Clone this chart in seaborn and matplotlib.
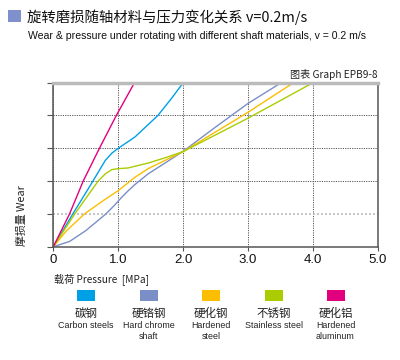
import matplotlib
matplotlib.use("Agg")
import matplotlib.pyplot as plt
import seaborn as sns
import pandas as pd
from matplotlib.patches import Rectangle

sns.set_style("white")
plt.rcParams['font.family'] = ['Liberation Sans', 'Noto Sans CJK SC', 'DejaVu Sans']

# ---- data ----
materials_cn = ["碳钢", "硬铬钢", "硬化钢", "不锈钢", "硬化铝"]
materials_en = ["Carbon steels", "Hard chrome\nshaft", "Hardened\nsteel", "Stainless steel", "Hardened\naluminum"]
colors = ["#00a0e6", "#7a8fc8", "#fbbe00", "#aacc00", "#e3007f"]

carbon_x = [0, 0.3, 0.61, 0.8, 0.9, 1.0, 1.26, 1.61, 1.82, 2.0]
carbon_y = [0, 1.0, 2.0, 2.63, 2.85, 3.0, 3.35, 4.0, 4.52, 5.0]

chrome_x = [0, 0.25, 0.5, 0.81, 0.95, 1.05, 1.15, 1.26, 1.46, 1.72, 2.0, 2.5, 3.0, 3.51]
chrome_y = [0, 0.16, 0.49, 1.0, 1.28, 1.5, 1.7, 1.9, 2.22, 2.55, 2.91, 3.65, 4.37, 5.0]

hardened_x = [0, 0.2, 0.48, 0.75, 1.0, 1.26, 1.46, 1.72, 2.0, 3.0, 3.7]
hardened_y = [0, 0.48, 1.0, 1.38, 1.71, 2.12, 2.38, 2.63, 2.9, 4.1, 5.0]

stainless_x = [0, 0.33, 0.69, 0.8, 0.9, 1.0, 1.15, 1.46, 1.72, 2.0, 3.0, 4.0]
stainless_y = [0, 1.0, 2.0, 2.22, 2.35, 2.38, 2.40, 2.55, 2.71, 2.9, 3.92, 5.0]

alu_x = [0, 0.25, 0.46, 0.71, 0.97, 1.25]
alu_y = [0, 1.0, 2.0, 3.0, 4.0, 5.0]

x_ticks = [0, 1, 2, 3, 4, 5]
x_ticklabels = ["0", "1.0", "2.0", "3.0", "4.0", "5.0"]

series = [(carbon_x, carbon_y), (chrome_x, chrome_y), (hardened_x, hardened_y),
          (stainless_x, stainless_y), (alu_x, alu_y)]
rows = []
for name, (xs, ys) in zip(materials_cn, series):
    for xv, yv in zip(xs, ys):
        rows.append({"material": name, "pressure": xv, "wear": yv})
df = pd.DataFrame(rows)

fig = plt.figure(figsize=(4.0, 3.6), dpi=100)
ax = fig.add_axes([0.1333, 0.3147, 0.8117, 0.4556])

sns.lineplot(data=df, x="pressure", y="wear", hue="material", hue_order=materials_cn,
             palette=dict(zip(materials_cn, colors)), sort=False, estimator=None,
             linewidth=1.0, legend=False, ax=ax)

ax.set_xlim(0, 5)
ax.set_ylim(0, 5)
ax.set_xticks(x_ticks)
ax.set_xticklabels(x_ticklabels)
ax.set_yticks([0, 1, 2, 3, 4, 5])
ax.set_yticklabels([])
ax.set_xlabel("")
ax.set_ylabel("")

ax.grid(True, linestyle=(0, (1.2, 1.2)), color="#555555", linewidth=0.7)
ax.set_axisbelow(True)
for i, gl in enumerate(ax.get_ygridlines()):
    if i == 1:
        gl.set_color("#bbbbbb")
        gl.set_linewidth(1.2)

for s in ["left", "bottom", "right"]:
    ax.spines[s].set_color("#555555")
    ax.spines[s].set_linewidth(1.1)
ax.spines["top"].set_color("#bbbbbb")
ax.spines["top"].set_linewidth(2.5)

ax.tick_params(axis="y", direction="out", length=4.5, color="#555555", width=0.8, left=True)
ax.tick_params(axis="x", direction="out", length=3, color="#555555", width=0.8, bottom=True,
               labelsize=9.5, labelcolor="#111111", pad=2)

# titles
fig.add_artist(Rectangle((8.3 / 400, 1 - 21.7 / 360), 12.4 / 400, 11.7 / 360,
                         transform=fig.transFigure, color="#8090cc", lw=0))
fig.text(27 / 400, 1 - 17 / 360, "旋转磨损随轴材料与压力变化关系 v=0.2m/s",
         fontsize=10.4, va="center", ha="left", color="#111111",
         family=['Noto Sans CJK SC', 'DejaVu Sans'])
fig.text(28 / 400, 1 - 36 / 360,
         "Wear & pressure under rotating with different shaft materials, v = 0.2 m/s",
         fontsize=7.55, va="center", ha="left", color="#111111")
fig.text(378 / 400, 1 - 74 / 360, "图表 Graph EPB9-8", fontsize=7.3, va="center", ha="right",
         color="#222222", family=['Noto Sans CJK SC', 'DejaVu Sans'])
fig.text(22 / 400, 1 - 216 / 360, "摩损量 Wear", fontsize=7.8, rotation=90,
         va="center", ha="center", color="#222222", family=['Noto Sans CJK SC', 'DejaVu Sans'])
fig.text(54 / 400, 1 - 279 / 360, "载荷 Pressure  [MPa]", fontsize=7.3, va="center", ha="left",
         color="#222222", family=['Noto Sans CJK SC', 'DejaVu Sans'])

# legend
centers = [86, 148.5, 211, 274, 335.5]
for cx, col, cn, en in zip(centers, colors, materials_cn, materials_en):
    fig.add_artist(Rectangle(((cx - 9) / 400, 1 - 300.7 / 360), 18 / 400, 10.5 / 360,
                             transform=fig.transFigure, color=col, lw=0))
    fig.text(cx / 400, 1 - 313 / 360, cn, fontsize=8.3, ha="center", va="center",
             color="#222222", family=['Noto Sans CJK SC', 'DejaVu Sans'])
    fig.text(cx / 400, 1 - 321 / 360, en, fontsize=6.4, ha="center", va="top",
             color="#222222", linespacing=1.25)

fig.savefig("out.png", dpi=100)
